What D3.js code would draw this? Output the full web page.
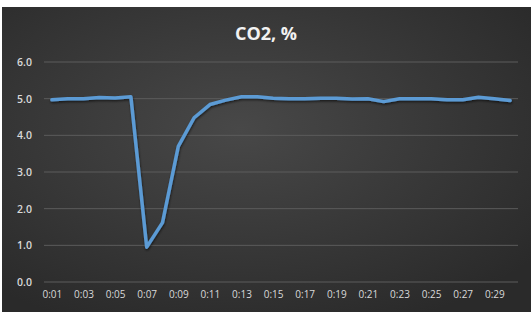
<!DOCTYPE html>
<html>
<head>
<meta charset="utf-8">
<script src="https://cdn.jsdelivr.net/npm/d3@7"></script>
<style>
  body { margin: 0; background: #fff; }
  svg { display: block; }
</style>
</head>
<body>
<svg id="chart"></svg>
<script>
const width = 531;
const height = 312;

// data
const times = ["0:01","0:02","0:03","0:04","0:05","0:06","0:07","0:08","0:09","0:10",
               "0:11","0:12","0:13","0:14","0:15","0:16","0:17","0:18","0:19","0:20",
               "0:21","0:22","0:23","0:24","0:25","0:26","0:27","0:28","0:29","0:30"];
const co2 = [4.97, 5.0, 5.0, 5.03, 5.02, 5.05, 0.95, 1.62, 3.7, 4.48,
             4.84, 4.96, 5.05, 5.05, 5.01, 5.0, 5.0, 5.01, 5.01, 4.99,
             5.0, 4.92, 5.0, 5.0, 5.0, 4.97, 4.97, 5.04, 5.0, 4.95];
const yTicks = [0, 1, 2, 3, 4, 5, 6];

const svg = d3.select("#chart")
    .attr("width", width)
    .attr("height", height);

const defs = svg.append("defs");
const bg = defs.append("radialGradient")
    .attr("id", "bg")
    .attr("cx", "45%").attr("cy", "40%").attr("r", "70%");
bg.append("stop").attr("offset", "0%").attr("stop-color", "#484848");
bg.append("stop").attr("offset", "100%").attr("stop-color", "#2a2a2a");

const shadow = defs.append("filter").attr("id", "shadow")
    .attr("x", "-10%").attr("y", "-10%").attr("width", "120%").attr("height", "120%");
shadow.append("feDropShadow")
    .attr("dx", 0.5).attr("dy", 1.5).attr("stdDeviation", 1.2)
    .attr("flood-color", "#000").attr("flood-opacity", 0.6);

svg.append("rect")
    .attr("x", 2).attr("y", 7)
    .attr("width", width - 2).attr("height", height - 7)
    .attr("fill", "url(#bg)");

const margin = { left: 44, right: 13, top: 62, bottom: 30 };

const x = d3.scalePoint()
    .domain(times)
    .range([margin.left, width - margin.right])
    .padding(0.5);

const y = d3.scaleLinear()
    .domain([0, 6])
    .range([282, 62]);

// gridlines
svg.append("g")
    .selectAll("line")
    .data(yTicks)
    .join("line")
    .attr("x1", margin.left)
    .attr("x2", width - margin.right)
    .attr("y1", d => y(d))
    .attr("y2", d => y(d))
    .attr("stroke", "#5c5c5c")
    .attr("stroke-width", 1);

// y axis labels
const yAxis = d3.axisLeft(y)
    .tickValues(yTicks)
    .tickFormat(d3.format(".1f"))
    .tickSize(0)
    .tickPadding(8);

svg.append("g")
    .attr("transform", `translate(${margin.left - 4},0)`)
    .call(yAxis)
    .call(g => g.select(".domain").remove())
    .selectAll("text")
    .attr("fill", "#d9d9d9")
    .style("font-family", "'Open Sans', sans-serif")
    .style("font-weight", "600")
    .style("font-size", "10.5px");

// x axis labels, every other minute
const xAxis = d3.axisBottom(x)
    .tickValues(times.filter((d, i) => i % 2 === 0))
    .tickSize(0)
    .tickPadding(0);

svg.append("g")
    .attr("transform", "translate(0,291)")
    .call(xAxis)
    .call(g => g.select(".domain").remove())
    .selectAll("text")
    .attr("fill", "#d9d9d9")
    .style("font-family", "'Open Sans', sans-serif")
    .style("font-size", "10px");

// line
const line = d3.line()
    .x((d, i) => x(times[i]))
    .y(d => y(d));

svg.append("path")
    .datum(co2)
    .attr("d", line)
    .attr("fill", "none")
    .attr("stroke", "#5b9bd5")
    .attr("stroke-width", 3.5)
    .attr("stroke-linejoin", "round")
    .attr("stroke-linecap", "round")
    .attr("filter", "url(#shadow)");

// title
svg.append("text")
    .attr("x", 266)
    .attr("y", 40)
    .attr("text-anchor", "middle")
    .attr("fill", "#f2f2f2")
    .style("font-family", "'Open Sans', sans-serif")
    .style("font-weight", "bold")
    .style("font-size", "18px")
    .text("CO2, %");
</script>
</body>
</html>
